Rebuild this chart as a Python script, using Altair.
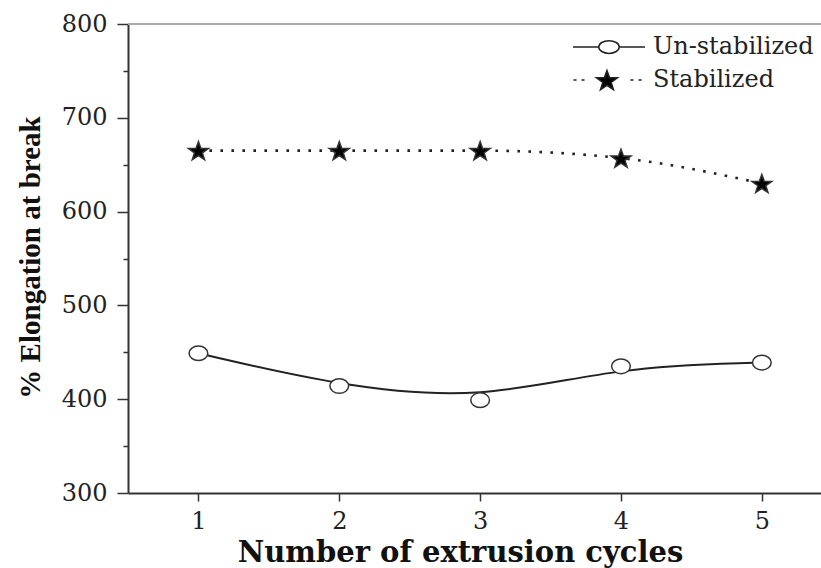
import math
import altair as alt
import pandas as pd

# ---------------- data ----------------
cycles = [1, 2, 3, 4, 5]
unstabilized = [449, 414, 399, 435, 439]
stabilized = [665, 665, 665, 657, 630]
series_names = ["Un-stabilized", "Stabilized"]
y_major = [300, 400, 500, 600, 700, 800]
y_minor = [350, 450, 550, 650, 750]
x_title = "Number of extrusion cycles"
y_title = "% Elongation at break"

df = pd.DataFrame({
    "cycle": cycles * 2,
    "value": unstabilized + stabilized,
    "series": [series_names[0]] * len(cycles) + [series_names[1]] * len(cycles),
})

# ---------------- symbol paths ----------------
K = 0.5523


def ellipse(cx=0.0, rx=1.0, ry=0.78):
    return (f"M{cx+rx:.3f},0C{cx+rx:.3f},{K*ry:.3f} {cx+K*rx:.3f},{ry:.3f} {cx:.3f},{ry:.3f}"
            f"C{cx-K*rx:.3f},{ry:.3f} {cx-rx:.3f},{K*ry:.3f} {cx-rx:.3f},0"
            f"C{cx-rx:.3f},{-K*ry:.3f} {cx-K*rx:.3f},{-ry:.3f} {cx:.3f},{-ry:.3f}"
            f"C{cx+K*rx:.3f},{-ry:.3f} {cx+rx:.3f},{-K*ry:.3f} {cx+rx:.3f},0Z")


def star(cx=0.0, r=1.0, sx=1.05, inner=0.40):
    pts = []
    for k in range(10):
        ang = math.radians(-90 + 36 * k)
        rr = r if k % 2 == 0 else r * inner
        pts.append((cx + rr * math.cos(ang) * sx, rr * math.sin(ang) + r * 0.1))
    return "M" + "L".join(f"{x:.3f},{y:.3f}" for x, y in pts) + "Z"


circle_path = ellipse()
star_path = star()

legend_unstab = "M-4.24,0L-1.2,0M1.2,0L4.24,0" + ellipse(0, 1.2, 0.75)
dots = "".join(f"M{c-0.18:.2f},0L{c+0.18:.2f},0" for c in [-4.0, -3.06, 2.7, 3.65])
legend_stab = dots + star(-0.24, 1.24)

# ---------------- encodings ----------------
x_enc = alt.X(
    "cycle:Q",
    scale=alt.Scale(domain=[0.5, 5.42], nice=False, zero=False),
    axis=alt.Axis(
        values=cycles, tickSize=8, tickWidth=1.5, tickColor="#333",
        domainColor="#333", domainWidth=2, grid=False,
        labelFont="DejaVu Serif", labelFontSize=24, labelColor="#222",
        labelPadding=8, labelFlush=False,
        title=x_title, titleFont="DejaVu Serif", titleFontWeight="bold",
        titleFontSize=29, titleColor="#111", titleX=332, titleY=68,
        titleBaseline="alphabetic", titleAlign="center",
    ),
)

y_scale = alt.Scale(domain=[300, 800], nice=False, zero=False)

y_main = alt.Y(
    "value:Q", scale=y_scale,
    axis=alt.Axis(
        orient="left", values=y_major, tickSize=11, tickWidth=1.5,
        tickColor="#333", domainColor="#333", domainWidth=2, grid=False,
        labelFont="DejaVu Serif", labelFontSize=24, labelColor="#222",
        labelPadding=10, labelFlush=False,
        title=y_title, titleFont="Liberation Serif", titleFontWeight="bold",
        titleFontSize=29, titleColor="#111", titleAngle=270,
        titleX=-98, titleY=233, titleBaseline="middle", titleAlign="center",
    ),
)

y_minor_enc = alt.Y(
    "value:Q", scale=y_scale,
    axis=alt.Axis(
        orient="left", values=y_minor, tickSize=5, tickWidth=1.5,
        tickColor="#333", labels=False, domain=False, grid=False, title=None,
    ),
)

y_plain = alt.Y("value:Q", scale=y_scale, axis=None)

base = alt.Chart(df)

line_unstab = base.transform_filter(
    alt.datum.series == series_names[0]
).mark_line(interpolate="basis", color="#222", strokeWidth=2).encode(
    x=x_enc, y=y_main
)

line_stab = base.transform_filter(
    alt.datum.series == series_names[1]
).mark_line(interpolate="monotone", color="#222", strokeWidth=2.6,
            strokeDash=[2.6, 8.4]).encode(
    x=x_enc, y=y_plain
)

minor_axis = base.mark_line(opacity=0).encode(x=x_enc, y=y_minor_enc, detail="series:N")

points = base.mark_point(filled=True, opacity=1, stroke="#333", strokeWidth=1.5).encode(
    x=x_enc, y=y_plain,
    shape=alt.Shape("series:N", scale=alt.Scale(domain=series_names, range=[circle_path, star_path]), legend=None),
    fill=alt.Fill("series:N", scale=alt.Scale(domain=series_names, range=["white", "black"]), legend=None),
    size=alt.Size("series:N", scale=alt.Scale(domain=series_names, range=[350, 400]), legend=None),
)

legend_cfg = dict(
    orient="none", legendX=469, legendY=11, title=None, padding=0,
    labelFont="DejaVu Serif", labelFontSize=24, labelColor="#222", labelLimit=400,
    labelOffset=32, rowPadding=8, symbolSize=289, symbolStrokeWidth=1.5,
    symbolOpacity=1,
)

legend_layer = base.transform_filter("false").mark_point(
    filled=True, opacity=1, strokeWidth=1.5
).encode(
    shape=alt.Shape("series:N", scale=alt.Scale(domain=series_names, range=[legend_unstab, legend_stab]),
                    legend=alt.Legend(**legend_cfg)),
    fill=alt.Fill("series:N", scale=alt.Scale(domain=series_names, range=["white", "black"]),
                  legend=alt.Legend(**legend_cfg)),
    stroke=alt.Stroke("series:N", scale=alt.Scale(domain=series_names, range=["#222", "#222"]),
                      legend=alt.Legend(**legend_cfg)),
)

top_rule = alt.Chart(df).mark_rule(color="#aaa", strokeWidth=2).encode(
    y=alt.YDatum(800, axis=None, scale=y_scale)
)

chart = alt.layer(
    top_rule, line_unstab, line_stab, minor_axis, points, legend_layer
).resolve_scale(
    shape="independent", fill="independent", size="independent", stroke="independent"
).resolve_axis(
    y="independent"
).properties(
    width=693, height=469,
    padding={"left": 128, "top": 24, "right": 0, "bottom": 75},
    autosize=alt.AutoSizeParams(type="none"),
    background="white",
).configure_view(stroke=None)

chart.save("out.html", embed_options={"renderer": "svg", "actions": False})
